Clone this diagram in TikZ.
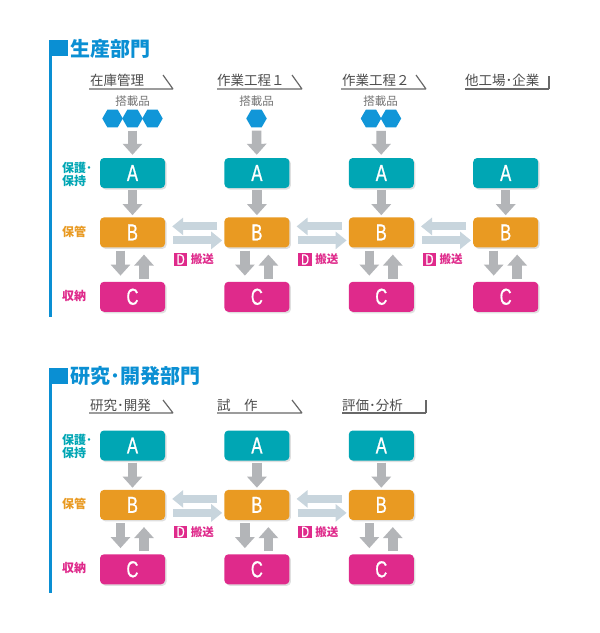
\documentclass[tikz,border=0pt]{standalone}
\usepackage{fontspec}
\newfontfamily\cjk{Noto Sans CJK JP}
\newfontfamily\boxfont{Liberation Sans}[FakeStretch=0.72, FakeBold=0.8]
\usepackage{tikz}
\usetikzlibrary{shapes.geometric, arrows.meta, positioning, fit, calc, shadows}

\definecolor{deptblue}{HTML}{0A8FD3}
\definecolor{hexblue}{HTML}{1196D8}
\definecolor{tealA}{HTML}{00A6B4}
\definecolor{orangeB}{HTML}{E99A22}
\definecolor{magentaC}{HTML}{DF2A8B}
\definecolor{arrowgray}{HTML}{B3B5B8}
\definecolor{arrowblue}{HTML}{C8D5DD}
\definecolor{headgray}{HTML}{4D4D4D}

\begin{document}
\begin{tikzpicture}[
    x=1pt, y=-1pt,
    font=\cjk,
    % Estilos de cajas
    box/.style={rectangle, rounded corners=4pt, minimum width=65pt, minimum height=30pt, inner sep=0pt, text=white, font=\boxfont\fontsize{23}{23}\selectfont, drop shadow={shadow xshift=1.5pt, shadow yshift=-1.5pt, opacity=0.25}},
    boxA/.style={box, fill=tealA},
    boxB/.style={box, fill=orangeB},
    boxC/.style={box, fill=magentaC},
    hex/.style={regular polygon, regular polygon sides=6, minimum size=20.5pt, inner sep=0pt, fill=hexblue},
    % Estilos de textos
    title/.style={anchor=west, inner sep=0pt, text=deptblue, font=\cjk\bfseries\fontsize{20}{20}\selectfont},
    header/.style={anchor=west, inner sep=0pt, text=headgray, font=\cjk\fontsize{13.5}{13.5}\selectfont},
    rowlabel/.style={anchor=west, inner sep=0pt, align=left, font=\cjk\bfseries\fontsize{12}{13.5}\selectfont},
    load/.style={inner sep=0pt, text=black!55, font=\cjk\fontsize{11.5}{11.5}\selectfont},
    dbox/.style={fill=magentaC, text=white, minimum width=13.5pt, minimum height=12.5pt, inner sep=0pt, font=\boxfont\fontsize{15}{15}\selectfont},
    dtext/.style={inner sep=0pt, text=magentaC, font=\cjk\bfseries\fontsize{11.5}{11.5}\selectfont},
    % Estilos de lineas y flechas
    rule/.style={draw=headgray!85, line width=1.2pt},
    downarrow/.style={draw=arrowgray, line width=9.5pt, -{Triangle[width=19pt,length=11pt]}},
    sidearrow/.style={draw=arrowblue, line width=8pt, -{Triangle[width=17pt,length=11pt]}}
]
\fill[white] (0,0) rectangle (600,633);
\useasboundingbox (0,0) rectangle (600,633);

% 1. Produccion (arriba)
\fill[deptblue] (49,40) rectangle (68,56);
\fill[deptblue] (49,40) rectangle (52,317);
\node[title] (ptitle) at (70,49) {生産部門};

\node[header] (ph1) at (90,80.5) {在庫管理};
\node[header] (ph2) at (217,80.5) {作業工程１};
\node[header] (ph3) at (342,80.5) {作業工程２};
\node[header] (ph4) at (465,80.5) {他工場･企業};
\draw[rule] (89,89) -- (173,89) (173,89) -- (163,75);
\draw[rule] (217,89) -- (302,89) (302,89) -- (292,75);
\draw[rule] (341,89) -- (426,89) (426,89) -- (416,75);
\draw[rule] (465,89) -- (549,89) (549,89) -- (549,76);

\node[rowlabel, text=tealA] (pl1) at (62,174.5) {保護･\\保持};
\node[rowlabel, text=orangeB] (pl2) at (62,232) {保管};
\node[rowlabel, text=magentaC] (pl3) at (62,296) {収納};

% Cajas A, B, C
\node[boxA] (pa1) at (132.5,173) {A};
\node[boxA, right=59pt of pa1] (pa2) {A};
\node[boxA, right=59pt of pa2] (pa3) {A};
\node[boxA, right=59pt of pa3] (pa4) {A};
\node[boxB, below=29pt of pa1] (pb1) {B};
\node[boxB, below=29pt of pa2] (pb2) {B};
\node[boxB, below=29pt of pa3] (pb3) {B};
\node[boxB, below=29pt of pa4] (pb4) {B};
\node[boxC, below=34pt of pb1] (pc1) {C};
\node[boxC, below=34pt of pb2] (pc2) {C};
\node[boxC, below=34pt of pb3] (pc3) {C};
\node[boxC, below=34pt of pb4] (pc4) {C};

% Piezas cargadas
\node[load] (pload1) at (132.5,101) {搭載品};
\node[load] (pload2) at (256.5,101) {搭載品};
\node[load] (pload3) at (380.5,101) {搭載品};
\node[hex] (h1b) at (132.5,118.5) {};
\node[hex, left=-1pt of h1b] (h1a) {};
\node[hex, right=-1pt of h1b] (h1c) {};
\node[hex] (h2) at (256.5,118.5) {};
\node[hex] (h3a) at (371,118.5) {};
\node[hex, right=-1pt of h3a] (h3b) {};
\node[fit=(h3a) (h3b), inner sep=0pt] (hx3) {};

\draw[downarrow, shorten <=3pt, shorten >=3pt] (h1b) -- (pa1);
\draw[downarrow, shorten <=3pt, shorten >=3pt] (h2) -- (pa2);
\draw[downarrow, shorten <=3pt, shorten >=3pt] (hx3) -- (pa3);

% Flechas verticales
\draw[downarrow, shorten <=2pt, shorten >=2pt] (pa1) -- (pb1);
\draw[downarrow, shorten <=2pt, shorten >=2pt] (pa2) -- (pb2);
\draw[downarrow, shorten <=2pt, shorten >=2pt] (pa3) -- (pb3);
\draw[downarrow, shorten <=2pt, shorten >=2pt] (pa4) -- (pb4);
\draw[downarrow, shorten <=3pt, shorten >=6pt] ([xshift=-12pt]pb1.south) -- ([xshift=-12pt]pc1.north);
\draw[downarrow, shorten <=3pt, shorten >=7pt] ([xshift=11.5pt]pc1.north) -- ([xshift=11.5pt]pb1.south);
\draw[downarrow, shorten <=3pt, shorten >=6pt] ([xshift=-12pt]pb2.south) -- ([xshift=-12pt]pc2.north);
\draw[downarrow, shorten <=3pt, shorten >=7pt] ([xshift=11.5pt]pc2.north) -- ([xshift=11.5pt]pb2.south);
\draw[downarrow, shorten <=3pt, shorten >=6pt] ([xshift=-12pt]pb3.south) -- ([xshift=-12pt]pc3.north);
\draw[downarrow, shorten <=3pt, shorten >=7pt] ([xshift=11.5pt]pc3.north) -- ([xshift=11.5pt]pb3.south);
\draw[downarrow, shorten <=3pt, shorten >=6pt] ([xshift=-12pt]pb4.south) -- ([xshift=-12pt]pc4.north);
\draw[downarrow, shorten <=3pt, shorten >=7pt] ([xshift=11.5pt]pc4.north) -- ([xshift=11.5pt]pb4.south);

% Transporte entre B
\draw[sidearrow, shorten <=7pt, shorten >=7pt] ([yshift=6pt]pb2.west) -- ([yshift=6pt]pb1.east);
\draw[sidearrow, shorten <=8pt, shorten >=2pt] ([yshift=-8pt]pb1.east) -- ([yshift=-8pt]pb2.west);
\draw[sidearrow, shorten <=7pt, shorten >=7pt] ([yshift=6pt]pb3.west) -- ([yshift=6pt]pb2.east);
\draw[sidearrow, shorten <=8pt, shorten >=2pt] ([yshift=-8pt]pb2.east) -- ([yshift=-8pt]pb3.west);
\draw[sidearrow, shorten <=7pt, shorten >=7pt] ([yshift=6pt]pb4.west) -- ([yshift=6pt]pb3.east);
\draw[sidearrow, shorten <=8pt, shorten >=2pt] ([yshift=-8pt]pb3.east) -- ([yshift=-8pt]pb4.west);
\node[dbox] (pd1) at ($(pb1.east)!0.5!(pb2.west)+(-14,27)$) {D};
\node[dtext, right=3pt of pd1] (pt1) {搬送};
\node[dbox] (pd2) at ($(pb2.east)!0.5!(pb3.west)+(-14,27)$) {D};
\node[dtext, right=3pt of pd2] (pt2) {搬送};
\node[dbox] (pd3) at ($(pb3.east)!0.5!(pb4.west)+(-14,27)$) {D};
\node[dtext, right=3pt of pd3] (pt3) {搬送};

% 2. Investigacion y desarrollo (abajo)
\fill[deptblue] (49,368) rectangle (68,384);
\fill[deptblue] (49,368) rectangle (52,593);
\node[title] (rtitle) at (70,375.5) {研究･開発部門};

\node[header] (rh1) at (90,405) {研究･開発};
\node[header] (rh2) at (217,405) {試　作};
\node[header] (rh3) at (342,405) {評価･分析};
\draw[rule] (89,413) -- (173,413) (173,413) -- (163,400);
\draw[rule] (217,413) -- (302,413) (302,413) -- (292,400);
\draw[rule] (342,413) -- (426,413) (426,413) -- (426,400);

\node[rowlabel, text=tealA] (rl1) at (62,446.5) {保護･\\保持};
\node[rowlabel, text=orangeB] (rl2) at (62,504) {保管};
\node[rowlabel, text=magentaC] (rl3) at (62,568) {収納};

\node[boxA] (ra1) at (132.5,445.5) {A};
\node[boxA, right=59pt of ra1] (ra2) {A};
\node[boxA, right=59pt of ra2] (ra3) {A};
\node[boxB, below=29pt of ra1] (rb1) {B};
\node[boxB, below=29pt of ra2] (rb2) {B};
\node[boxB, below=29pt of ra3] (rb3) {B};
\node[boxC, below=34pt of rb1] (rc1) {C};
\node[boxC, below=34pt of rb2] (rc2) {C};
\node[boxC, below=34pt of rb3] (rc3) {C};

\draw[downarrow, shorten <=2pt, shorten >=2pt] (ra1) -- (rb1);
\draw[downarrow, shorten <=2pt, shorten >=2pt] (ra2) -- (rb2);
\draw[downarrow, shorten <=2pt, shorten >=2pt] (ra3) -- (rb3);
\draw[downarrow, shorten <=3pt, shorten >=6pt] ([xshift=-12pt]rb1.south) -- ([xshift=-12pt]rc1.north);
\draw[downarrow, shorten <=3pt, shorten >=7pt] ([xshift=11.5pt]rc1.north) -- ([xshift=11.5pt]rb1.south);
\draw[downarrow, shorten <=3pt, shorten >=6pt] ([xshift=-12pt]rb2.south) -- ([xshift=-12pt]rc2.north);
\draw[downarrow, shorten <=3pt, shorten >=7pt] ([xshift=11.5pt]rc2.north) -- ([xshift=11.5pt]rb2.south);
\draw[downarrow, shorten <=3pt, shorten >=6pt] ([xshift=-12pt]rb3.south) -- ([xshift=-12pt]rc3.north);
\draw[downarrow, shorten <=3pt, shorten >=7pt] ([xshift=11.5pt]rc3.north) -- ([xshift=11.5pt]rb3.south);

\draw[sidearrow, shorten <=7pt, shorten >=7pt] ([yshift=6pt]rb2.west) -- ([yshift=6pt]rb1.east);
\draw[sidearrow, shorten <=8pt, shorten >=2pt] ([yshift=-8pt]rb1.east) -- ([yshift=-8pt]rb2.west);
\draw[sidearrow, shorten <=7pt, shorten >=7pt] ([yshift=6pt]rb3.west) -- ([yshift=6pt]rb2.east);
\draw[sidearrow, shorten <=8pt, shorten >=2pt] ([yshift=-8pt]rb2.east) -- ([yshift=-8pt]rb3.west);
\node[dbox] (rd1) at ($(rb1.east)!0.5!(rb2.west)+(-14,27)$) {D};
\node[dtext, right=3pt of rd1] (rt1) {搬送};
\node[dbox] (rd2) at ($(rb2.east)!0.5!(rb3.west)+(-14,27)$) {D};
\node[dtext, right=3pt of rd2] (rt2) {搬送};

\end{tikzpicture}
\end{document}
